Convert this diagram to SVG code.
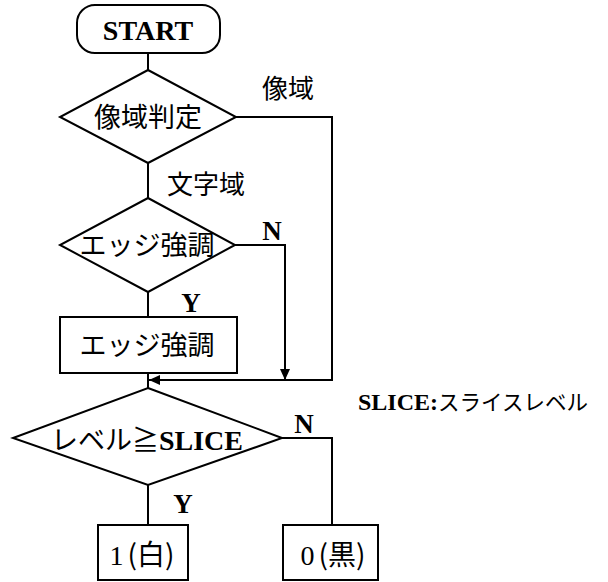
<svg xmlns="http://www.w3.org/2000/svg" width="608" height="582" viewBox="0 0 608 582">
<style>
.s{fill:#fff;stroke:#000;stroke-width:2}
.c{fill:none;stroke:#000;stroke-width:2}
.j{font-family:"Noto Sans CJK JP","Noto Sans CJK SC",sans-serif;fill:#000}
.l{font-family:"Liberation Serif",serif;font-weight:bold;fill:#000}
.n{font-family:"Liberation Serif",serif;fill:#000}
</style>
<defs>
<marker id="ah" markerWidth="12" markerHeight="12" refX="11" refY="6" orient="auto" markerUnits="userSpaceOnUse">
<path d="M0,1 L11,6 L0,11 Z" fill="#000"/>
</marker>
</defs>
<g id="connectors">
<path class="c" d="M148,53 V70"/>
<path class="c" d="M148,163 V198"/>
<path class="c" d="M148,292 V317"/>
<path class="c" d="M148,373 V388"/>
<path class="c" d="M236,117 H332 V380 H149" marker-end="url(#ah)"/>
<path class="c" d="M235,245 H285 V380" marker-end="url(#ah)"/>
<path class="c" d="M148,485 V525"/>
<path class="c" d="M282,438 H332 V525"/>
</g>
<g id="start">
<rect class="s" x="77" y="5" width="143" height="48" rx="18"/>
<text class="l" x="148" y="40" text-anchor="middle" style="font-size:28px">START</text>
</g>
<g id="d1">
<polygon class="s" points="148,70 236,117 148,163 60,117"/>
<text class="j" x="148" y="127" text-anchor="middle" style="font-size:27px">像域判定</text>
</g>
<g id="d2">
<polygon class="s" points="148,198 235,245 148,292 60,245"/>
<text class="j" x="147" y="255" text-anchor="middle" style="font-size:27px">エッジ強調</text>
</g>
<g id="p1">
<rect class="s" x="60" y="317" width="177" height="56"/>
<text class="j" x="147" y="355" text-anchor="middle" style="font-size:27px">エッジ強調</text>
</g>
<g id="d3">
<polygon class="s" points="148,388 282,438 148,485 13,438"/>
<text x="147" y="450" text-anchor="middle"><tspan class="j" style="font-size:27px">レベル≧</tspan><tspan class="l" style="font-size:28px">SLICE</tspan></text>
</g>
<g id="out1">
<rect class="s" x="98" y="525" width="90" height="55"/>
<text x="142" y="565" text-anchor="middle"><tspan class="n" style="font-size:28px">1</tspan><tspan class="j" dx="4" style="font-size:28px">(白)</tspan></text>
</g>
<g id="out0">
<rect class="s" x="283" y="525" width="95" height="55"/>
<text x="333" y="565" text-anchor="middle"><tspan class="n" style="font-size:28px">0</tspan><tspan class="j" dx="4" style="font-size:28px">(黒)</tspan></text>
</g>
<g id="labels">
<text class="j" x="262" y="98" style="font-size:26px">像域</text>
<text class="j" x="167" y="194" style="font-size:26px">文字域</text>
<text class="l" x="272" y="240" text-anchor="middle" style="font-size:27px">N</text>
<text class="l" x="191" y="312" text-anchor="middle" style="font-size:27px">Y</text>
<text class="l" x="304" y="433" text-anchor="middle" style="font-size:27px">N</text>
<text class="l" x="183" y="513" text-anchor="middle" style="font-size:27px">Y</text>
<text x="358" y="410"><tspan class="l" style="font-size:24px">SLICE:</tspan><tspan class="j" style="font-size:21.5px">スライスレベル</tspan></text>
</g>
</svg>
